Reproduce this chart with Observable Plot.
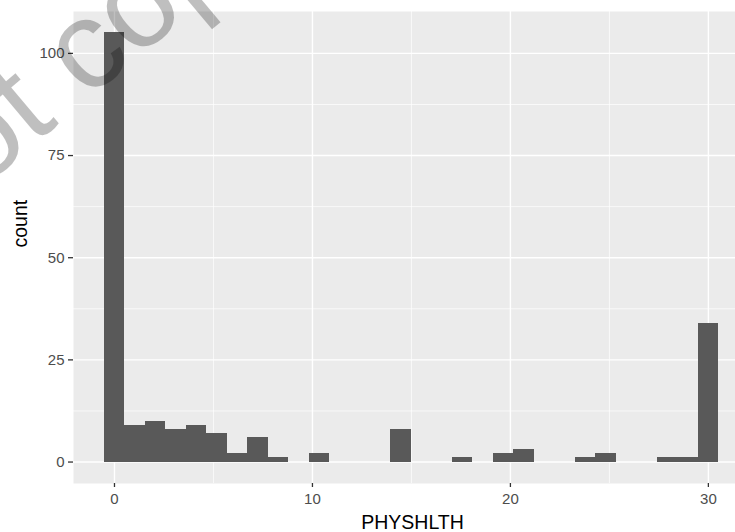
<!DOCTYPE html>
<html><head><meta charset="utf-8">
<script src="https://cdn.jsdelivr.net/npm/d3@7"></script>
<script src="https://cdn.jsdelivr.net/npm/@observablehq/plot@0.6"></script>
<style>html,body{margin:0;padding:0;background:#fff;} svg{display:block;}</style>
</head><body><div id="chart"></div>
<script>
// PHYSHLTH values (days) and their counts
const physhlth = [0, 1, 2, 3, 4, 5, 6, 7, 8, 10, 14, 18, 20, 21, 24, 25, 28, 29, 30];
const counts   = [105, 9, 10, 8, 9, 7, 2, 6, 1, 2, 8, 1, 2, 3, 1, 2, 1, 1, 34];
const xTicks = [0, 10, 20, 30];
const yTicks = [0, 25, 50, 75, 100];
const xMinor = [5, 15, 25];
const yMinor = [12.5, 37.5, 62.5, 87.5];
const xTitle = "PHYSHLTH";
const yTitle = "count";
const watermark = "Do not copy, post, or distribute";
const nBins = 30;

const binWidth = (d3.max(physhlth) - d3.min(physhlth)) / (nBins - 1);
const table = physhlth.map((v, i) => {
  const k = Math.round(v / binWidth);
  return {x1: (k - 0.5) * binWidth, x2: (k + 0.5) * binWidth, count: counts[i]};
});

const plot = Plot.plot({
  width: 735, height: 532,
  marginLeft: 73, marginRight: 0, marginTop: 11, marginBottom: 49,
  style: {fontFamily: "'Liberation Sans', Arial, sans-serif", background: "#fff", overflow: "hidden"},
  x: {domain: [-2.07, 31.37]},
  y: {domain: [-5.25, 110.25]},
  marks: [
    Plot.frame({fill: "#EBEBEB", stroke: null}),
    Plot.ruleX(xMinor, {stroke: "#fff", strokeWidth: 0.7}),
    Plot.ruleY(yMinor, {stroke: "#fff", strokeWidth: 0.7}),
    Plot.ruleX(xTicks, {stroke: "#fff", strokeWidth: 1.4}),
    Plot.ruleY(yTicks, {stroke: "#fff", strokeWidth: 1.4}),
    Plot.rectY(table, {x1: "x1", x2: "x2", y1: 0, y2: "count", fill: "#595959", shapeRendering: "crispEdges"}),
    Plot.axisX({ticks: xTicks, tickSize: 4, tickPadding: 6, color: "#4D4D4D", stroke: "#333", strokeWidth: 1.3, fontSize: 15, label: null}),
    Plot.axisY({ticks: yTicks, tickSize: 5, tickPadding: 4, color: "#4D4D4D", stroke: "#333", strokeWidth: 1.3, fontSize: 15, label: null}),
    Plot.text([xTitle], {text: d => d, frameAnchor: "bottom", dx: 8, dy: 39.5, lineAnchor: "middle", fontSize: 19.5, fill: "#000"}),
    Plot.text([yTitle], {text: d => d, frameAnchor: "left", dx: -53, rotate: -90, lineAnchor: "middle", fontSize: 19.5, fill: "#000"}),
    Plot.text([watermark], {text: d => d, frameAnchor: "top-left", dx: -298, dy: 350, rotate: -40, textAnchor: "start", lineAnchor: "bottom", fontSize: 126, fill: "#000", fillOpacity: 0.25})
  ]
});
document.getElementById("chart").appendChild(plot);
</script>
</body></html>
